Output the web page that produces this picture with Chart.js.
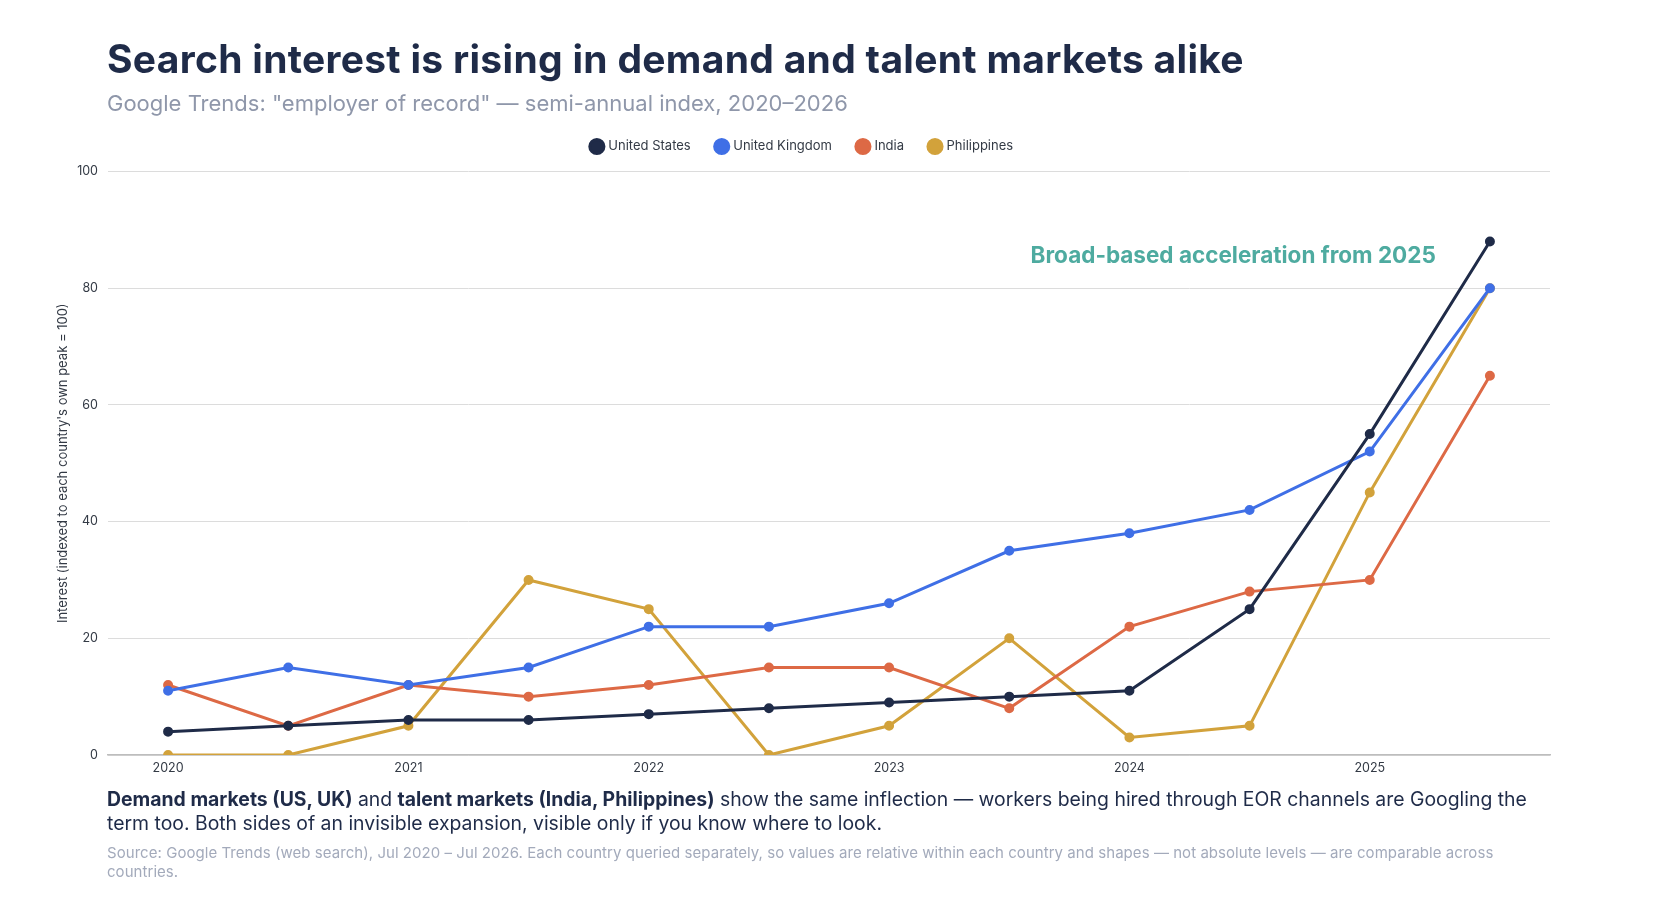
<!DOCTYPE html>
<html>
<head>
<meta charset="utf-8">
<script src="https://cdn.jsdelivr.net/npm/chart.js@4.4.1/dist/chart.umd.min.js"></script>
<style>
  html, body { margin: 0; padding: 0; background: #ffffff; }
  body { width: 1658px; height: 918px; position: relative; overflow: hidden; font-family: Inter, "Noto Sans", sans-serif; }
  #title { position: absolute; left: 107px; top: 35px; font-size: 39px; font-weight: 700; color: #1f2b48; letter-spacing: 0.3px; white-space: nowrap; }
  #subtitle { position: absolute; left: 107px; top: 90px; font-size: 22px; font-weight: 400; color: #8f97aa; white-space: nowrap; }
  #chartWrap { position: absolute; left: 0; top: 0; width: 1658px; height: 918px; }
  #note { position: absolute; left: 107px; top: 788px; width: 1452px; font-size: 19.4px; line-height: 23.5px; color: #1f2b48; }
  #note b { font-weight: 700; }
  #source { position: absolute; left: 107px; top: 843px; width: 1420px; font-size: 15px; letter-spacing: 0.05px; line-height: 19px; color: #a3aabb; }
</style>
</head>
<body>
<div id="chartWrap"><canvas id="c" width="1658" height="918"></canvas></div>
<div id="title">Search interest is rising in demand and talent markets alike</div>
<div id="subtitle">Google Trends: "employer of record" — semi-annual index, 2020–2026</div>
<div id="note"><b>Demand markets (US, UK)</b> and <b>talent markets (India, Philippines)</b> show the same inflection — workers being hired through EOR channels are Googling the term too. Both sides of an invisible expansion, visible only if you know where to look.</div>
<div id="source">Source: Google Trends (web search), Jul 2020 – Jul 2026. Each country queried separately, so values are relative within each country and shapes — not absolute levels — are comparable across countries.</div>
<script>
// ---- data ----
const periods = ["2020", "2020 H2", "2021", "2021 H2", "2022", "2022 H2", "2023", "2023 H2", "2024", "2024 H2", "2025", "2025 H2"];
const yearLabels = ["2020", "", "2021", "", "2022", "", "2023", "", "2024", "", "2025", ""];
const unitedStates = [4, 5, 6, 6, 7, 8, 9, 10, 11, 25, 55, 88];
const unitedKingdom = [11, 15, 12, 15, 22, 22, 26, 35, 38, 42, 52, 80];
const india = [12, 5, 12, 10, 12, 15, 15, 8, 22, 28, 30, 65];
const philippines = [0, 0, 5, 30, 25, 0, 5, 20, 3, 5, 45, 80];
const yTicks = [0, 20, 40, 60, 80, 100];
const annotationText = "Broad-based acceleration from 2025";

const FONT = "Inter, 'Noto Sans', sans-serif";

function ds(label, data, color) {
  return {
    label, data,
    borderColor: color, backgroundColor: color,
    pointBackgroundColor: color, pointBorderColor: color,
    borderWidth: 3, pointRadius: 3.5, pointHoverRadius: 4,
    tension: 0, fill: false
  };
}

const annotationPlugin = {
  id: 'annot',
  afterDatasetsDraw(chart) {
    const { ctx, scales: { x, y } } = chart;
    ctx.save();
    ctx.font = "700 22.5px " + FONT;
    ctx.fillStyle = "#4eaba0";
    ctx.textAlign = "right";
    ctx.textBaseline = "middle";
    const px = x.getPixelForValue(10) + (x.getPixelForValue(11) - x.getPixelForValue(10)) * 0.55;
    ctx.fillText(annotationText, px, y.getPixelForValue(85.5));
    ctx.restore();
  }
};

const legendGap = {
  id: 'legendGap',
  beforeInit(chart) {
    const orig = chart.legend.fit;
    chart.legend.fit = function () {
      orig.bind(chart.legend)();
      this.height += 8.5;
    };
  }
};

new Chart(document.getElementById('c'), {
  type: 'line',
  data: {
    labels: periods,
    datasets: [
      ds("United States", unitedStates, "#1f2b48"),
      ds("United Kingdom", unitedKingdom, "#3f6fe6"),
      ds("India", india, "#dd6945"),
      ds("Philippines", philippines, "#d2a23b")
    ]
  },
  options: {
    responsive: false,
    animation: false,
    layout: { padding: { left: 55, right: 108, top: 114, bottom: 136 } },
    plugins: {
      legend: {
        position: 'top',
        labels: {
          usePointStyle: true, pointStyle: 'circle', boxWidth: 10, boxHeight: 10,
          padding: 26, color: "#333a45", font: { family: FONT, size: 13 }
        }
      },
      tooltip: { enabled: false }
    },
    scales: {
      x: {
        type: 'category',
        offset: true,
        grid: { display: false, drawTicks: false },
        border: { display: true, color: "#bdbdbd", width: 1.5 },
        ticks: {
          autoSkip: false, maxRotation: 0, padding: 6,
          color: "#333a45", font: { family: FONT, size: 12.5 },
          callback: (v, i) => yearLabels[i]
        }
      },
      y: {
        min: 0, max: 100,
        afterFit: (s) => { s.width = 53; },
        afterBuildTicks: (s) => { s.ticks = yTicks.map(v => ({ value: v })); },
        grid: { color: "#dcdcdc", drawTicks: false, lineWidth: 1 },
        border: { display: false },
        ticks: { padding: 10, color: "#333a45", font: { family: FONT, size: 12.5 } },
        title: {
          display: true,
          text: "Interest (indexed to each country's own peak = 100)",
          color: "#333a45", font: { family: FONT, size: 13 }, padding: 0
        }
      }
    }
  },
  plugins: [annotationPlugin, legendGap]
});
</script>
</body>
</html>
